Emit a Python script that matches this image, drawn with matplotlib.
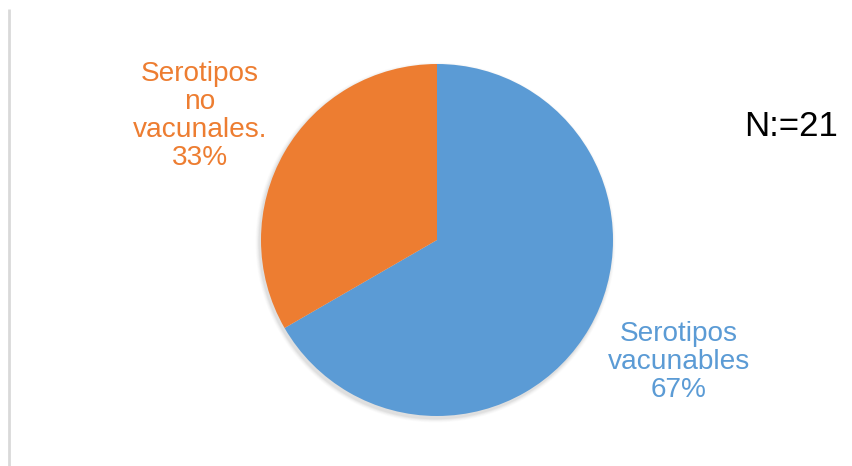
import matplotlib
matplotlib.use("Agg")
import matplotlib.pyplot as plt
from matplotlib.patches import Circle

# Serotype counts (N = 21)
categories = ["Serotipos\nvacunables", "Serotipos\nno\nvacunales."]
counts = [14, 7]
colors = ["#5B9BD5", "#ED7D31"]
total_label = "N:=21"

W, H = 852, 466
fig = plt.figure(figsize=(W / 100, H / 100), dpi=100)
ax = fig.add_axes([0, 0, 1, 1])
ax.set_xlim(0, W)
ax.set_ylim(0, H)
ax.set_aspect("equal")
ax.axis("off")

plt.rcParams["font.family"] = ["Liberation Sans", "DejaVu Sans"]

cx, cy, r = 437, H - 240, 176

# soft shadow under the pie
for i, a in enumerate([0.035, 0.03, 0.025, 0.02, 0.015]):
    ax.add_patch(Circle((cx - 1.5, cy - 2.5), r + 0.8 * (i + 1), color="black",
                        alpha=a, lw=0, zorder=1))

ax.pie(counts, colors=colors, startangle=90, counterclock=False,
       center=(cx, cy), radius=r, frame=True,
       wedgeprops=dict(linewidth=0, zorder=2))
ax.set_xlim(0, W)
ax.set_ylim(0, H)
ax.axis("off")

total = sum(counts)
pcts = [round(100 * c / total) for c in counts]

# category labels with percentages
ax.text(679, H - 362, f"{categories[0]}\n{pcts[0]}%", color=colors[0],
        fontsize=20.2, ha="center", va="center", linespacing=1.1, zorder=5)
ax.text(200, H - 116, f"{categories[1]}\n{pcts[1]}%", color=colors[1],
        fontsize=20.2, ha="center", va="center", linespacing=1.1, zorder=5)

ax.text(744, H - 127, total_label, color="black", fontsize=25,
        ha="left", va="center", zorder=5)

# left border line
ax.plot([9, 9], [0, H - 9], color="#D9D9D9", lw=2, solid_capstyle="butt")

fig.savefig("out.png", dpi=100)
